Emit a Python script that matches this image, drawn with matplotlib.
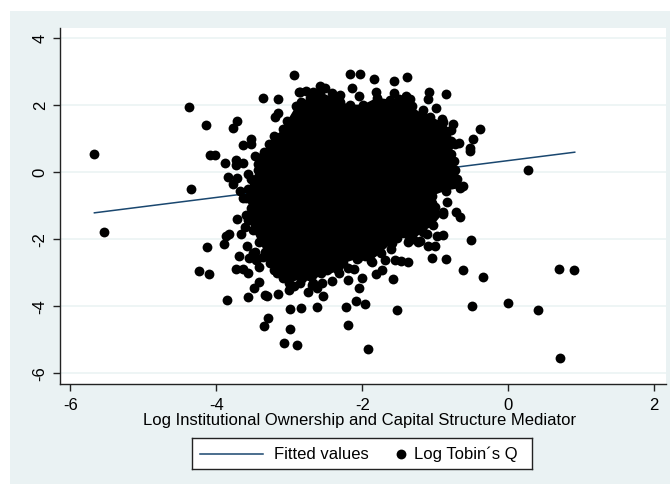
import matplotlib
matplotlib.use("Agg")
import matplotlib.pyplot as plt
from matplotlib.patches import Rectangle

plt.rcParams['font.family'] = ['Liberation Sans', 'DejaVu Sans']

X_LABEL = "Log Institutional Ownership and Capital Structure Mediator"
FIT_LABEL = "Fitted values"
POINT_LABEL = "Log Tobin\u00b4s Q"
x_ticks = [-6, -4, -2, 0, 2]
y_ticks = [-6, -4, -2, 0, 2, 4]

fit_x = [-5.67, 0.91]
fit_y = [-1.21, 0.60]

# Individually readable points
point_x = [-5.67,-5.54,-4.38,-4.14,-4.34,-4.08,-4.02,-3.88,-3.73,-3.73,-3.63,-3.72,-3.77,-3.53,-3.63,-3.52,-3.84,-3.71,-3.57,-3.36,-3.15,-3.20,-3.16,-2.94,-2.87,
 -2.17,-2.03,-1.84,-1.56,-1.39,-2.14,-2.86,-2.77,-2.67,-2.58,-2.51,-2.42,-2.31,-2.05,-1.81,-1.56,-1.40,-1.34,
 -1.09,-1.10,-0.85,-0.99,-0.76,-0.39,-0.49,-0.53,-0.53,-0.68,-1.39,-1.17,-0.91,-0.82,-0.78,0.27,
 -0.73,-0.62,-0.84,-0.71,-0.66,-0.89,-0.97,-0.89,-1.12,-1.21,-0.51,-1.10,-1.01,-1.04,-0.85,-0.62,-0.35,-1.55,-1.47,-1.38,-1.61,-1.58,-1.36,
 0.69,0.90,-0.50,0.00,0.41,0.71,-1.92,-1.52,-2.20,-2.23,-2.09,-1.96,-2.05,-2.01,-2.20,-1.81,-1.73,-2.32,-2.19,-2.12,
 -3.86,-3.56,-3.48,-3.41,-3.33,-3.31,-3.16,-2.99,-2.84,-2.62,-3.29,-3.35,-2.99,-3.07,-2.89,-3.01,-2.94,-2.75,-2.54,-2.55,-2.41,
 -3.73,-3.64,-3.57,-3.42,-3.69,-3.55,-3.46,-3.21,-3.08,-4.24,-4.10,-4.13,-3.90,
 -3.77,-3.67,-3.63,-3.72,-3.59,-3.82,-3.87,-3.66,-3.58,-3.47,-3.44,-3.61,
 -2.85,-2.69,-2.62,-2.76,-2.99,-2.92,-2.49,-2.33,-3.36,-3.26,-3.50,-2.31,-2.06,-1.87,-1.69,-1.37,-1.24]
point_y = [0.54,-1.77,1.94,1.42,-0.50,0.52,0.52,0.29,0.37,0.22,0.29,1.54,1.31,0.99,0.81,0.84,-0.15,-0.17,-0.04,2.23,2.18,1.64,1.76,2.91,2.40,
 2.94,2.93,2.79,2.73,2.84,2.52,2.39,2.42,2.40,2.59,2.51,2.37,2.31,2.29,2.41,2.38,2.28,2.18,
 2.41,2.20,2.35,1.93,1.44,1.29,0.99,0.72,0.64,0.87,2.21,1.86,1.58,0.37,0.12,0.07,
 -0.28,-0.40,-0.90,-1.19,-1.34,-1.18,-1.89,-1.86,-1.85,-2.05,-2.01,-2.20,-2.20,-2.57,-2.60,-2.92,-3.12,-2.62,-2.64,-2.67,-2.29,-3.19,-2.02,
 -2.90,-2.92,-4.00,-3.91,-4.12,-5.54,-5.27,-4.10,-4.55,-4.02,-3.84,-3.94,-3.45,-3.15,-3.21,-3.04,-2.92,-3.01,-2.86,-2.88,
 -3.81,-3.73,-3.46,-3.28,-3.66,-3.69,-3.64,-4.08,-4.05,-4.03,-4.35,-4.60,-4.68,-5.09,-5.16,-3.51,-3.39,-3.58,-3.69,-3.31,-3.24,
 -2.88,-2.90,-3.02,-2.82,-2.49,-2.57,-2.62,-2.92,-3.16,-2.94,-3.03,-2.24,-2.15,
 -0.35,-0.56,-0.78,-1.39,-1.27,-1.85,-1.89,-1.85,-2.20,-2.37,-2.60,-1.62,
 -3.31,-3.36,-3.46,-3.07,-3.12,-2.92,-2.92,-2.82,-2.52,-2.71,-2.41,-2.71,-2.56,-2.67,-2.62,-2.08,-2.08]

# Points along the rim of the overplotted mass, in order round it; the inside,
# where single points cannot be told apart, is filled as one solid region.
rim_x = [-3.47,-3.35,-3.28,-3.21,-3.08,-3.03,-2.91,-2.84,-2.72,-2.58,-2.41,-2.31,-2.17,-1.99,-1.80,-1.62,-1.50,-1.40,-1.32,-1.18,-1.07,-0.90,-0.78,-0.78,-0.73,-0.79,-0.75,-0.73,-0.76,-0.70,-0.66,-0.86,-1.04,-1.04,-1.00,-0.90,-1.03,-1.17,-1.30,-1.52,-1.60,-1.75,-1.88,-1.96,-2.07,-2.26,-2.35,-2.44,-2.56,-2.68,-2.82,-3.00,-3.05,-3.17,-3.30,-3.33,-3.42,-3.50,-3.57,-3.53,-3.60,-3.56,-3.52,-3.43,-3.43]
rim_y = [0.50,0.62,0.85,1.08,1.28,1.53,1.97,2.11,2.22,2.41,2.23,2.11,2.02,2.02,2.23,2.17,2.20,2.23,1.97,1.74,1.66,1.50,1.25,0.92,0.84,0.55,0.35,0.07,-0.02,-0.20,-0.47,-0.55,-0.70,-0.92,-1.05,-1.24,-1.58,-1.78,-2.00,-1.95,-2.12,-2.41,-2.64,-2.50,-2.58,-2.72,-2.90,-2.86,-3.00,-3.31,-3.16,-3.31,-3.05,-3.00,-2.50,-2.38,-2.07,-1.72,-1.43,-1.08,-0.78,-0.50,-0.21,0.07,0.24]

W, H = 670, 484
BG = '#eaf2f3'
NAVY = '#1a476f'
FS = 12.0
SIZE = 50
fig = plt.figure(figsize=(W/100, H/100), dpi=100, facecolor='white')
fig.patches.append(Rectangle((10/W, 0), (W-10)/W, (H-11)/H, transform=fig.transFigure,
                             facecolor=BG, edgecolor='none', zorder=-10))

L, R, T, B = 59.5, 666, 28, 383.5
ax = fig.add_axes([L/W, 1-B/H, (R-L)/W, (B-T)/H], facecolor='white')
ax.set_xlim((L-508.3)/73, (R-508.3)/73)
ax.set_ylim((172.3-B)/33.5, (172.3-T)/33.5)

ax.yaxis.grid(True, color=BG, lw=1.1, zorder=0)
ax.xaxis.grid(False)
ax.set_axisbelow(True)

ax.plot(fit_x, fit_y, color=NAVY, lw=1.1, zorder=2)
ax.fill(rim_x, rim_y, color='black', lw=0, zorder=3)
ax.scatter(rim_x, rim_y, s=SIZE, color='black', lw=0, zorder=3)
ax.scatter(point_x, point_y, s=SIZE, color='black', lw=0, zorder=3)

for s in ('top', 'right'):
    ax.spines[s].set_visible(False)
for s in ('left', 'bottom'):
    ax.spines[s].set_linewidth(1.0)
    ax.spines[s].set_color('#222222')

ax.set_xticks(x_ticks)
ax.set_yticks(y_ticks)
ax.set_xticklabels([str(v) for v in x_ticks])
ax.set_yticklabels([str(v) for v in y_ticks], rotation=90, va='center')
ax.tick_params(axis='x', length=5, width=1.0, color='#222222', labelsize=FS, pad=5.5)
ax.tick_params(axis='y', length=5, width=1.0, color='#222222', labelsize=FS, pad=3.5)
ax.set_xlabel(X_LABEL, fontsize=FS, labelpad=0, x=(359.5-L)/(R-L))

# Legend laid out in its own axes, measured in figure pixels
lx0, lx1, ly0, ly1 = 192.3, 532, 438.3, 468.7
lax = fig.add_axes([lx0/W, 1-ly1/H, (lx1-lx0)/W, (ly1-ly0)/H], facecolor='white')
lax.set_xlim(lx0, lx1)
lax.set_ylim(ly1, ly0)
lax.set_xticks([])
lax.set_yticks([])
for s in lax.spines.values():
    s.set_linewidth(1.0)
    s.set_color('#222222')
lax.plot([199.7, 263], [454, 454], color=NAVY, lw=1.1)
lax.scatter([400.7], [454], s=SIZE, color='black', lw=0)
lax.text(273.5, 454.5, FIT_LABEL, fontsize=FS, va='center', ha='left')
lax.text(414, 454.5, POINT_LABEL, fontsize=FS, va='center', ha='left')

fig.savefig('out.png', dpi=100, facecolor=fig.get_facecolor())
